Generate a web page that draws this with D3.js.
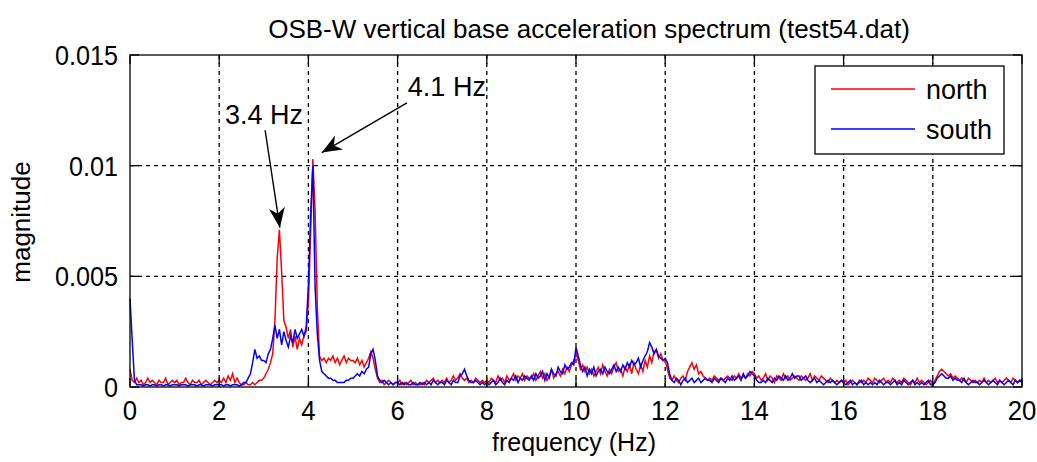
<!DOCTYPE html>
<html><head><meta charset="utf-8">
<script src="https://cdn.jsdelivr.net/npm/d3@7"></script>
<style>
body{margin:0;background:#fff;}
text{font-family:"Liberation Sans",Arial,sans-serif;fill:#000;}
</style></head>
<body><svg id="c" width="1037" height="462"></svg>
<script>
// frequency grid: 0 .. 20 Hz, step 0.05 Hz
const fStep = 0.05;
// magnitudes in units of 1e-4
const northE4 = [
8,3,2,4,2,3,1,2,4,2,3,2,1,3,2,2,4,1,2,3,
2,3,1,2,2,4,2,1,3,2,2,3,1,2,3,2,1,2,3,2,
3,2,4,2,5,3,6,2,4,2,1,1,2,1,1,2,1,2,3,3,
4,6,8,11,15,30,58,71,52,30,27,22,26,18,23,17,22,19,23,25,
38,70,103,80,36,14,12,13,11,13,12,14,11,13,10,12,14,11,13,12,
12,11,13,10,12,9,11,13,16,13,8,4,2,3,1,2,3,2,1,2,
2,3,1,2,1,2,3,1,2,1,1,2,1,3,2,3,4,2,3,2,
3,2,4,2,3,5,3,4,6,4,3,4,2,3,2,4,3,2,3,2,
3,2,4,3,2,5,3,4,2,5,3,4,6,3,5,4,6,3,5,4,
4,6,3,5,7,4,6,3,5,8,4,6,7,5,8,6,9,7,10,12,
15,12,8,10,7,9,6,8,5,7,9,6,10,7,5,8,6,9,11,7,
8,5,9,7,10,6,11,8,6,10,7,12,9,14,11,16,17,13,15,12,
12,8,4,3,5,3,2,4,5,3,7,9,11,8,10,6,7,5,4,3,
4,3,5,4,3,4,3,4,5,4,3,5,4,6,4,5,4,6,5,7,
6,4,5,3,4,6,3,5,4,2,5,4,3,6,4,5,3,4,5,4,
3,5,4,3,4,6,3,5,4,3,5,4,3,2,4,3,2,3,2,3,
2,3,1,2,3,2,1,3,2,3,2,4,3,2,4,3,2,3,4,2,
3,2,4,3,2,3,2,4,3,2,1,3,2,4,2,3,2,1,2,3,
1,3,5,7,8,7,6,5,6,4,5,4,3,4,3,2,4,3,2,3,
2,3,2,4,2,3,2,3,4,2,3,2,3,4,3,2,4,3,2,3,
3];
const southE4 = [
40,21,3,1,1,1,0.5,1,1,0.5,1,1,0.5,1,1,0.5,1,1,0.5,1,
1,1,0.5,1,1,1,0.5,1,1,1,0.5,1,1,0.5,1,1,1,0.5,1,1,
1,1,0.5,1,1,0.5,1,1,1,0.5,1,2,2,4,6,11,17,13,14,12,
12,11,15,17,22,28,22,26,19,25,21,18,23,20,26,22,24,26,23,27,
46,78,100,45,24,12,7,6,5,4,4,3,3,2,2,2,2,3,3,4,
4,5,6,5,7,6,8,9,15,17,12,5,3,2,3,2,1,2,1,2,
2,1,2,1,2,1,1,2,1,1,2,1,2,1,2,1,3,2,1,2,
2,1,3,2,1,3,2,2,5,6,8,5,3,2,2,3,2,1,2,1,
2,1,2,3,1,2,4,2,1,3,2,4,3,5,2,4,3,5,4,3,
5,3,6,4,5,7,3,6,4,8,6,5,9,7,6,10,8,9,11,10,
18,14,10,7,9,5,8,6,9,5,7,8,6,9,7,6,8,10,7,9,
7,10,8,11,9,12,10,11,13,9,12,14,16,20,18,15,17,14,13,12,
13,11,6,3,2,4,3,1,3,4,2,3,4,2,3,4,2,3,4,3,
3,2,4,3,2,4,3,2,4,3,5,3,4,5,3,6,4,5,7,6,
5,3,2,2,3,2,4,3,2,4,3,5,4,3,5,3,4,6,4,5,
5,3,4,5,3,2,3,4,2,3,2,1,2,3,2,3,2,1,2,3,
2,1,2,3,1,2,1,2,3,1,2,1,2,1,2,1,3,2,1,2,
2,1,2,3,1,2,1,3,2,1,2,3,1,2,1,2,1,2,3,1,
1,2,4,5,6,5,4,4,5,3,4,3,3,2,4,2,1,2,3,2,
2,1,2,3,2,1,2,3,2,1,3,2,1,2,3,2,1,3,2,3,
2];
const xTicks = [0,2,4,6,8,10,12,14,16,18,20];
const yTicks = [0,0.005,0.01,0.015];
const yTickLabels = ["0","0.005","0.01","0.015"];
const seriesNames = ["north","south"];
const seriesColors = ["#ff0000","#0000ff"];
const titleText = "OSB-W vertical base acceleration spectrum (test54.dat)";
const annotations = [
  {label:"3.4 Hz", tx:2.13, ty:0.0119, x1:3.03, y1:0.0116, x2:3.36, y2:0.0072},
  {label:"4.1 Hz", tx:6.23, ty:0.01315, x1:6.21, y1:0.01284, x2:4.3, y2:0.01059}
];

const svg = d3.select("#c");
const L=130, R=1022, T=55, B=387;
const x = d3.scaleLinear().domain([0,20]).range([L,R]);
const y = d3.scaleLinear().domain([0,0.015]).range([B,T]);

// grid
const g = svg.append("g");
g.selectAll(".gx").data(xTicks.slice(1,-1)).enter().append("line")
  .attr("x1",d=>x(d)).attr("x2",d=>x(d)).attr("y1",T).attr("y2",B)
  .attr("stroke","#000").attr("stroke-width",1.3).attr("stroke-dasharray","4,4");
g.selectAll(".gy").data(yTicks.slice(1,-1)).enter().append("line")
  .attr("y1",d=>y(d)).attr("y2",d=>y(d)).attr("x1",L).attr("x2",R)
  .attr("stroke","#000").attr("stroke-width",1.3).attr("stroke-dasharray","4,4");

// lines
const series = [northE4, southE4];
const line = d3.line().x((d,i)=>x(i*fStep)).y(d=>y(d*1e-4));
series.forEach((s,k)=>{
  svg.append("path").datum(s).attr("d",line).attr("fill","none")
    .attr("stroke",seriesColors[k]).attr("stroke-width",1.5);
});

// axes (ticks inward)
const tl = 9;
const ax = svg.append("g");
ax.append("rect").attr("x",L).attr("y",T).attr("width",R-L).attr("height",B-T)
  .attr("fill","none").attr("stroke","#000").attr("stroke-width",1.3);
xTicks.forEach(t=>{
  ax.append("line").attr("x1",x(t)).attr("x2",x(t)).attr("y1",B).attr("y2",B-tl).attr("stroke","#000").attr("stroke-width",1.3);
  ax.append("line").attr("x1",x(t)).attr("x2",x(t)).attr("y1",T).attr("y2",T+tl).attr("stroke","#000").attr("stroke-width",1.3);
  ax.append("text").attr("transform",`translate(${x(t)},${B+33}) scale(0.92,1)`).attr("text-anchor","middle")
    .attr("font-size",28).text(t);
});
yTicks.forEach((t,i)=>{
  ax.append("line").attr("x1",L).attr("x2",L+tl).attr("y1",y(t)).attr("y2",y(t)).attr("stroke","#000").attr("stroke-width",1.3);
  ax.append("line").attr("x1",R).attr("x2",R-tl).attr("y1",y(t)).attr("y2",y(t)).attr("stroke","#000").attr("stroke-width",1.3);
  ax.append("text").attr("transform",`translate(${L-12},${y(t)+10}) scale(0.9,1)`).attr("text-anchor","end")
    .attr("font-size",28).text(yTickLabels[i]);
});

// labels
svg.append("text").attr("x",589).attr("y",38).attr("text-anchor","middle").attr("font-size",26).text(titleText);
svg.append("text").attr("x",574).attr("y",451).attr("text-anchor","middle").attr("font-size",25).text("frequency (Hz)");
svg.append("text").attr("transform","translate(30,222) rotate(-90)").attr("text-anchor","middle").attr("font-size",26).text("magnitude");

// annotations
const defs = svg.append("defs");
defs.append("marker").attr("id","ah").attr("markerUnits","userSpaceOnUse")
  .attr("markerWidth",24).attr("markerHeight",20).attr("refX",0).attr("refY",0)
  .attr("viewBox","-22 -10 24 20").attr("orient","auto")
  .append("path").attr("d","M0,0 L-20,-8 L-14,0 L-20,8 Z").attr("fill","#000");
annotations.forEach(a=>{
  svg.append("line").attr("x1",x(a.x1)).attr("y1",y(a.y1)).attr("x2",x(a.x2)).attr("y2",y(a.y2))
    .attr("stroke","#000").attr("stroke-width",1.4).attr("marker-end","url(#ah)");
  svg.append("text").attr("x",x(a.tx)).attr("y",y(a.ty)).attr("font-size",27).text(a.label);
});

// legend
const lg = svg.append("g");
lg.append("rect").attr("x",815).attr("y",66).attr("width",189).attr("height",88)
  .attr("fill","#fff").attr("stroke","#000").attr("stroke-width",1.3);
seriesNames.forEach((n,k)=>{
  const ly = 89 + k*40;
  lg.append("line").attr("x1",831).attr("x2",915).attr("y1",ly).attr("y2",ly).attr("stroke",seriesColors[k]).attr("stroke-width",1.5);
  lg.append("text").attr("x",926).attr("y",ly+10).attr("font-size",27).text(n);
});
</script></body></html>
